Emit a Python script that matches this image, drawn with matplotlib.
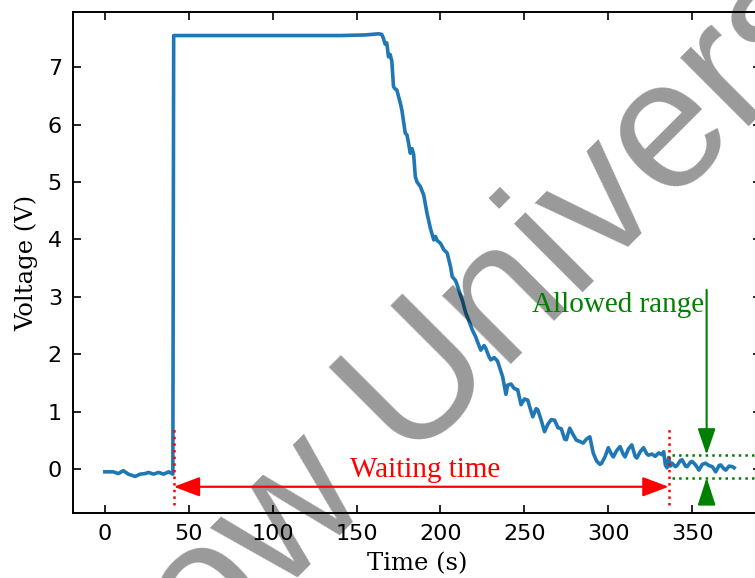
import numpy as np
import matplotlib.pyplot as plt

time_s = [0, 3, 5, 8, 11, 14, 16, 18, 21, 24, 26, 29, 32, 35, 38, 40, 40.5,
          41, 60, 100, 140, 155, 163, 165, 166, 167, 168, 169, 170, 171, 172,
          173, 174, 176, 177, 179, 180, 181, 182, 183, 184, 185, 186, 188,
          190, 192, 194, 196, 197, 198, 200, 202, 204, 206, 207, 209, 210,
          212, 213, 215, 216, 218, 219, 221, 222, 224, 226, 227, 229, 230,
          232, 234, 236, 237, 239, 240, 242, 244, 246, 248, 250, 252, 254,
          255, 257, 258, 260, 262, 264, 266, 268, 270, 272, 274, 275, 277,
          279, 281, 283, 285, 287, 289, 291, 293, 295, 296, 298, 300, 302,
          303, 305, 307, 309, 310, 312, 314, 316, 317, 319, 321, 323, 324,
          326, 328, 330, 332, 333, 334, 335, 336, 337, 338, 340, 341, 343,
          344, 346, 347, 349, 350, 352, 354, 356, 358, 360, 362, 364, 366,
          367, 369, 370, 372, 374, 375]
voltage_v = [-0.05, -0.05, -0.05, -0.08, -0.03, -0.09, -0.11, -0.13, -0.09,
             -0.08, -0.06, -0.09, -0.06, -0.09, -0.05, -0.08, -0.09,
             7.55, 7.55, 7.55, 7.55, 7.56, 7.58, 7.57, 7.50, 7.40, 7.42,
             7.18, 7.22, 7.10, 6.66, 6.62, 6.60, 6.38, 6.25, 5.85, 5.82,
             5.67, 5.50, 5.58, 5.48, 5.09, 5.00, 4.92, 4.77, 4.45, 4.19,
             3.99, 4.05, 3.98, 3.93, 3.82, 3.76, 3.52, 3.35, 3.28, 3.20,
             3.02, 2.94, 2.72, 2.65, 2.50, 2.42, 2.30, 2.22, 2.07, 2.15,
             2.10, 1.95, 1.90, 1.94, 1.88, 1.70, 1.61, 1.30, 1.46, 1.48,
             1.40, 1.38, 1.12, 1.22, 1.20, 1.00, 0.91, 1.05, 1.03, 0.85,
             0.65, 0.78, 0.86, 0.85, 0.72, 0.70, 0.52, 0.51, 0.71, 0.60,
             0.50, 0.48, 0.45, 0.52, 0.56, 0.28, 0.14, 0.08, 0.10, 0.21,
             0.37, 0.25, 0.21, 0.32, 0.39, 0.25, 0.21, 0.35, 0.42, 0.22,
             0.19, 0.30, 0.37, 0.26, 0.24, 0.26, 0.22, 0.28, 0.25, 0.30,
             0.07, 0.02, 0.20, 0.05, 0.10, 0.04, 0.06, 0.15, 0.16, 0.05,
             0.04, 0.12, 0.13, 0.07, -0.02, 0.08, 0.10, 0.06, 0.04, -0.05,
             0.06, 0.07, 0.00, -0.02, 0.05, 0.04, 0.02]

# annotation values
t_start = 41
t_end = 336
range_low = -0.15
range_high = 0.25
t_range = 358.6

xticks = [0, 50, 100, 150, 200, 250, 300, 350]
yticks = [0, 1, 2, 3, 4, 5, 6, 7]

times = 'Liberation Serif'

fig = plt.figure(figsize=(7.55, 5.78), dpi=100)
ax = fig.add_axes([73 / 755, 1 - 513 / 578, (761 - 73) / 755, (513 - 12) / 578])

ax.plot(time_s, voltage_v, color='#1f77b4', lw=2.6, zorder=2)

ax.set_xlim(-19, 391)
ax.set_ylim(-0.767, 7.96)
ax.set_xticks(xticks)
ax.set_yticks(yticks)
ax.tick_params(direction='in', top=True, right=True, length=6, width=1.2,
               labelsize=16, pad=8)
for s in ax.spines.values():
    s.set_linewidth(1.4)

ax.set_xlabel('Time (s)', family='DejaVu Serif', fontsize=17.5, labelpad=6)
ax.set_ylabel('Voltage (V)', family='DejaVu Serif', fontsize=17.5, labelpad=7)

# waiting time
ax.vlines([t_start, t_end], -0.63, 0.75, colors='red', linestyles=':', lw=1.8, zorder=4)
ax.annotate('', xy=(t_start, -0.31), xytext=(t_end, -0.31),
            arrowprops=dict(arrowstyle='<|-|>,head_length=1.6,head_width=0.6',
                            color='red', lw=1.6, shrinkA=0, shrinkB=0,
                            mutation_scale=10), zorder=4)
ax.text(191, -0.14, 'Waiting time', color='red', family=times, fontsize=21,
        ha='center', va='baseline', zorder=5)

# allowed range
ax.hlines([range_high, range_low], 338, 395, colors='green', linestyles=':',
          lw=1.8, zorder=4)
ax.annotate('', xy=(t_range, range_high), xytext=(t_range, 3.12),
            arrowprops=dict(arrowstyle='-|>,head_length=1.6,head_width=0.55',
                            color='green', lw=1.5, shrinkA=0, shrinkB=0,
                            mutation_scale=10), zorder=4)
ax.annotate('', xy=(t_range, range_low), xytext=(t_range, -0.59),
            arrowprops=dict(arrowstyle='-|>,head_length=1.7,head_width=0.55',
                            color='green', lw=1.5, shrinkA=0, shrinkB=0,
                            mutation_scale=10), zorder=4)
ax.text(357, 2.74, 'Allowed range', color='green', family=times, fontsize=21,
        ha='right', va='baseline', zorder=6)

# watermark
wm_x, wm_y = 207 / 755, 1 - 668 / 578
for txt, ha in [('Mosc', 'right'), ('ow University', 'left')]:
    ax.text(wm_x, wm_y, txt, transform=fig.transFigure, rotation=45,
            rotation_mode='anchor', ha=ha, va='baseline', fontsize=132,
            family='Liberation Sans', color='black', alpha=0.4,
            clip_on=False, zorder=3)

fig.savefig('out.png', dpi=100)
